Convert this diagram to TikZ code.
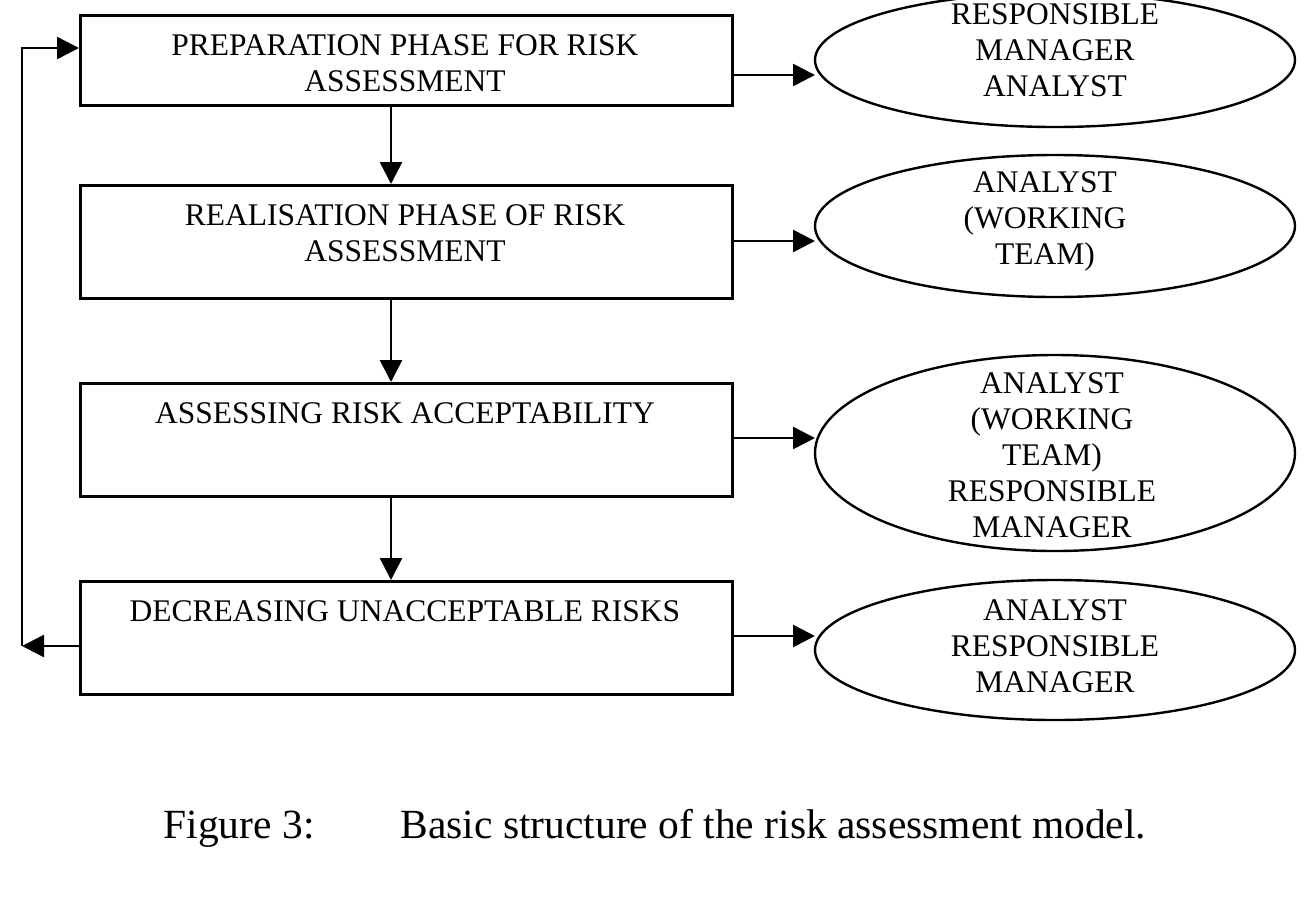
\documentclass[tikz,border=0pt]{standalone}
\usepackage{fontspec}
\setmainfont{Liberation Serif}
\usetikzlibrary{arrows.meta}
\begin{document}
\begin{tikzpicture}[x=1pt,y=-1pt,
  box/.style={draw,line width=2.6pt,minimum width=652pt,anchor=north west,inner sep=0pt},
  lbl/.style={align=center,font=\fontsize{31.5}{36}\selectfont},
  captext/.style={font=\fontsize{41.5}{44}\selectfont,anchor=base west},
  arr/.style={line width=2.6pt,-{Triangle[length=22pt,width=22pt]}}]
\useasboundingbox (0,0) rectangle (1316,905);
\node[box,minimum height=90pt] (b1) at (79,14) {};
\node[box,minimum height=113pt] (b2) at (79,184) {};
\node[box,minimum height=113pt] (b3) at (79,382) {};
\node[box,minimum height=113pt] (b4) at (79,580) {};
\node[lbl] (t1) at (405,63) {PREPARATION PHASE FOR RISK\\ASSESSMENT};
\node[lbl] (t2) at (405,233) {REALISATION PHASE OF RISK\\ASSESSMENT};
\node[lbl] (t3) at (405,413) {ASSESSING RISK ACCEPTABILITY};
\node[lbl] (t4) at (405,611) {DECREASING UNACCEPTABLE RISKS};
\draw[line width=2.4pt] (1055,60) ellipse [x radius=240, y radius=67];
\draw[line width=2.4pt] (1055,226) ellipse [x radius=240, y radius=71];
\draw[line width=2.4pt] (1055,453) ellipse [x radius=240, y radius=98];
\draw[line width=2.4pt] (1055,650) ellipse [x radius=240, y radius=70];
\coordinate (e1) at (815,75);
\coordinate (e2) at (815,241);
\coordinate (e3) at (815,438);
\coordinate (e4) at (815,636);
\node[lbl] (r1) at (1055,50) {RESPONSIBLE\\MANAGER\\ANALYST};
\node[lbl] (r2) at (1045,221) {ANALYST\\(WORKING\\TEAM)};
\node[lbl] (r3) at (1052,455) {ANALYST\\(WORKING\\TEAM)\\RESPONSIBLE\\MANAGER};
\node[lbl] (r4) at (1055,646) {ANALYST\\RESPONSIBLE\\MANAGER};
\draw[arr] (b1.east |- e1) -- (e1);
\draw[arr] (b2.east |- e2) -- (e2);
\draw[arr] (b3.east |- e3) -- (e3);
\draw[arr] (b4.east |- e4) -- (e4);
\draw[arr] (391,104) -- (b2.north -| 391,0);
\draw[arr] (391,297) -- (b3.north -| 391,0);
\draw[arr] (391,495) -- (b4.north -| 391,0);
\coordinate (c1) at (22,646);
\coordinate (c2) at (22,48);
\draw[arr] (b4.west |- c1) -- (c1);
\draw[arr] (c1) -- (c2) -- (b1.west |- c2);
\node[captext] (cap1) at (160,838) {Figure 3:};
\node[captext] (cap2) at (397,838) {Basic structure of the risk assessment model.};
\end{tikzpicture}
\end{document}
